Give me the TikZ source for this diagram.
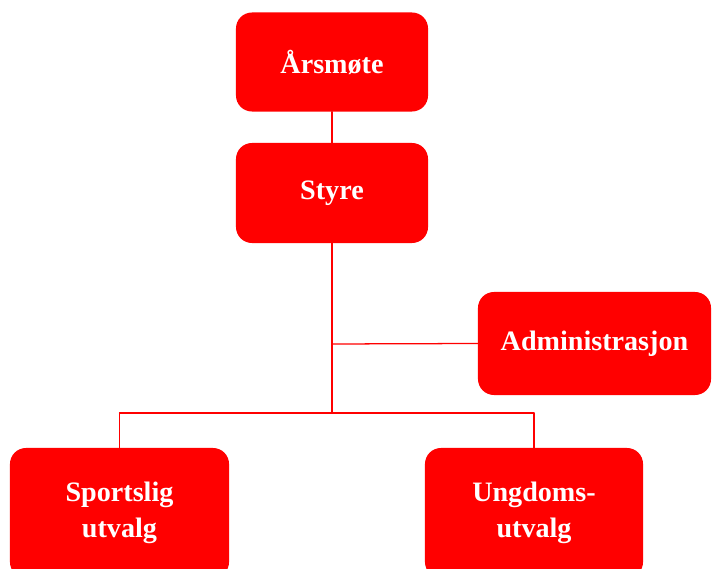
\documentclass[tikz,border=0pt]{standalone}
\usepackage{fontspec}
\setmainfont{Liberation Serif}
\usepackage{tikz}

\begin{document}
\begin{tikzpicture}[x=0.025cm,y=-0.025cm,line cap=round,line join=round,
  orgbox/.style={draw=none,fill=red,rounded corners=0.4cm,text=white,align=center,
    font=\fontsize{20}{26}\selectfont\bfseries,inner sep=0pt},
  link/.style={draw=red,line width=0.9pt}]
\useasboundingbox (0,0) rectangle (712,569);
\node[orgbox,minimum width=4.8cm,minimum height=2.475cm] (arsmote) at (332,62) {Årsmøte};
\node[orgbox,minimum width=4.8cm,minimum height=2.5cm] (styre) at (332,193) {Styre};
\node[orgbox,minimum width=5.825cm,minimum height=2.575cm] (admin) at (594.5,343.5) {Administrasjon};
\node[orgbox,minimum width=5.475cm,minimum height=3.25cm] (sport) at (119.5,513) {Sportslig\\utvalg};
\node[orgbox,minimum width=5.45cm,minimum height=3.25cm] (ungdom) at (534,513) {Ungdoms-\\utvalg};
\coordinate (mid) at (332,344);
\coordinate (fork) at (332,413);
\coordinate (left) at (119.5,413);
\coordinate (right) at (534,413);
\draw[link,line width=1.4pt] (arsmote) -- (styre);
\draw[link] (styre.south) -- (fork);
\draw[link] (mid) -- (admin.west);
\draw[link] (left) -- (right);
\draw[link] (left) -- (sport.north);
\draw[link] (right) -- (ungdom.north);
\end{tikzpicture}
\end{document}
